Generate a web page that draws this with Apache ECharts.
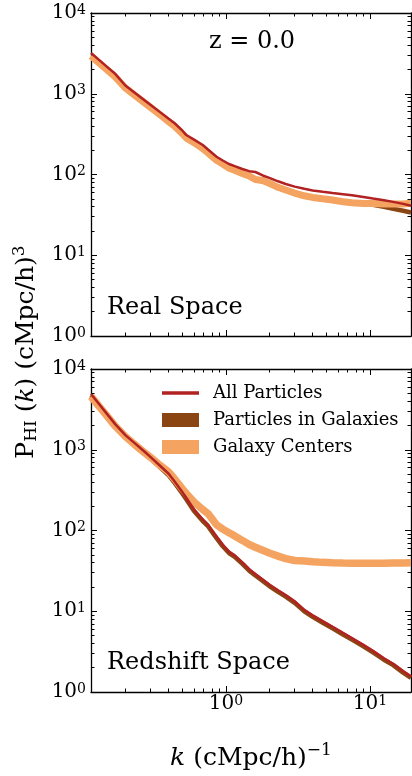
<!DOCTYPE html>
<html><head><meta charset="utf-8">
<script src="https://cdn.jsdelivr.net/npm/echarts@6/dist/echarts.min.js"></script>
<style>html,body{margin:0;padding:0;background:#fff}#c{width:412px;height:776px}</style>
</head><body><div id="c"></div>
<script>
// ---------- data ----------
const kValues = [0.1155, 0.13, 0.15, 0.17, 0.2, 0.23, 0.27, 0.3, 0.35, 0.4, 0.44, 0.5, 0.53, 0.6, 0.69, 0.75, 0.86, 0.95, 1.05, 1.15, 1.3, 1.45, 1.6, 1.8, 2.0, 2.3, 2.6, 3.0, 3.5, 4.0, 4.7, 5.5, 6.5, 7.5, 9, 10.5, 12.5, 14.5, 17, 19.28];
// Real space
const realAll = [3197, 2663, 2138, 1766, 1265, 1045, 839, 726, 588, 490, 431, 346, 308, 270, 232, 204, 166, 149, 135, 127, 117, 110, 107.4, 97.2, 91, 82.4, 76.3, 70.8, 66.5, 63.5, 61.1, 59, 57, 55.3, 52.6, 50.4, 48.1, 45.8, 43.3, 41];
const realGal = [2875, 2396, 1924, 1590, 1154, 954, 766, 662, 536, 441, 387, 312, 277, 243, 206, 181, 147, 132, 118, 111, 101, 93.9, 85, 82.6, 76.2, 68, 63, 57.7, 53.4, 51, 49, 47.3, 45.6, 44.5, 43.4, 42.2, 39.8, 37.6, 35.6, 33.8];
const realCen = [2934, 2445, 1963, 1622, 1178, 973, 782, 676, 547, 450, 395, 318, 283, 248, 210, 185, 150, 135, 120, 113, 103, 95.8, 86.7, 84.3, 77.8, 69.4, 64.3, 58.9, 54.5, 52, 50, 48.3, 46, 44.6, 43.7, 43.7, 43.1, 43.2, 43.2, 44];
// Redshift space
const zAll = [4898, 3770, 2740, 2078, 1518, 1227, 959, 809, 629, 504, 405, 296, 254, 182, 137, 118, 84, 66.5, 54.8, 49.2, 40.3, 33.2, 28.9, 24.7, 21.4, 18.2, 15.9, 13.3, 10.4, 8.91, 7.53, 6.42, 5.39, 4.65, 3.84, 3.23, 2.62, 2.24, 1.82, 1.57];
const zGal = [4692, 3612, 2625, 1991, 1454, 1175, 919, 775, 603, 483, 388, 284, 243, 174, 131, 113, 80.5, 63.7, 52.5, 47.1, 38.6, 31.8, 27.7, 23.7, 20.5, 17.4, 15.2, 12.7, 9.96, 8.54, 7.21, 6.15, 5.16, 4.45, 3.68, 3.09, 2.51, 2.15, 1.74, 1.5];
const zCen = [4565, 3532, 2582, 1968, 1459, 1178, 930, 802, 638, 530, 434, 325, 288, 225, 182, 162, 118, 104, 93.6, 85.7, 75.4, 67.1, 62.1, 56.9, 52.6, 48.2, 44.9, 42.5, 41.8, 41.1, 40.3, 39.9, 39.5, 39.2, 39.2, 39.2, 39.2, 39.5, 39.7, 39.9];

const seriesNames = ['All Particles', 'Particles in Galaxies', 'Galaxy Centers'];
const panelTitles = ['Real Space', 'Redshift Space'];
const redshiftText = 'z = 0.0';
const xMajorTicks = [1, 10];
const yMajorTicks = [1, 10, 100, 1000, 10000];
const xRange = [0.1155, 19.28];
const yRange = [1, 10000];

// ---------- styling ----------
const FONT = 'DejaVu Serif';
const colors = {all: '#B22222', gal: '#8B4513', cen: '#F4A460'};

function minorTicks(range) {
  const out = [];
  for (let d = -2; d <= 4; d++) for (let m = 2; m <= 9; m++) {
    const v = m * Math.pow(10, d);
    if (v > range[0] && v < range[1]) out.push(+v.toPrecision(6));
  }
  return out;
}
const xMinorTicks = minorTicks(xRange);
const yMinorTicks = minorTicks(yRange);

const rich = {
  b: {fontFamily: FONT, fontSize: 20, lineHeight: 20, color: '#000', verticalAlign: 'bottom'},
  s: {fontFamily: FONT, fontSize: 14, lineHeight: 14, color: '#000', verticalAlign: 'top', padding: [0, 0, 9, 0]}
};
function powLabel(v) { return '{b|10}{s|' + Math.round(Math.log10(v)) + '}'; }

function axis(kind, grid, pos, ticks, len, showLine, showLabels) {
  const range = kind === 'x' ? xRange : yRange;
  return {
    type: 'log', logBase: 10, gridIndex: grid, position: pos,
    min: range[0], max: range[1],
    axisLine: {show: showLine, onZero: false, lineStyle: {color: '#000', width: 1.3}},
    axisTick: {show: true, inside: true, length: len, customValues: ticks, lineStyle: {color: '#000', width: 1}},
    axisLabel: showLabels ? {show: true, customValues: ticks, formatter: powLabel, rich: rich,
      margin: kind === 'x' ? 2 : 5} : {show: false},
    splitLine: {show: false}, minorTick: {show: false}, minorSplitLine: {show: false}
  };
}

const xAxes = [], yAxes = [];
[0, 1].forEach(g => {
  xAxes.push(axis('x', g, 'bottom', xMajorTicks, 6, true, g === 1));
  xAxes.push(axis('x', g, 'bottom', xMinorTicks, 3.5, false, false));
  xAxes.push(axis('x', g, 'top', xMajorTicks, 6, true, false));
  xAxes.push(axis('x', g, 'top', xMinorTicks, 3.5, false, false));
  yAxes.push(axis('y', g, 'left', yMajorTicks, 6, true, true));
  yAxes.push(axis('y', g, 'left', yMinorTicks, 3.5, false, false));
  yAxes.push(axis('y', g, 'right', yMajorTicks, 6, true, false));
  yAxes.push(axis('y', g, 'right', yMinorTicks, 3.5, false, false));
});
// x-axis title on bottom panel
Object.assign(xAxes[4], {
  name: '{i|k}{n| (cMpc/h)}{s|\u22121}', nameLocation: 'middle', nameGap: 50,
  nameTextStyle: {rich: {
    i: {fontFamily: FONT, fontSize: 25, fontStyle: 'italic', lineHeight: 29, verticalAlign: 'bottom', color: '#000'},
    n: {fontFamily: FONT, fontSize: 25, lineHeight: 29, verticalAlign: 'bottom', color: '#000'},
    s: {fontFamily: FONT, fontSize: 17, lineHeight: 17, verticalAlign: 'top', color: '#000'}
  }}
});

function pairs(vals) { return kValues.map((k, i) => [k, vals[i]]); }
function line(name, vals, grid, color, width) {
  return {
    type: 'line', name: name, xAxisIndex: grid * 4, yAxisIndex: grid * 4,
    data: pairs(vals), symbol: 'none', showSymbol: false, silent: true,
    lineStyle: {color: color, width: width}, itemStyle: {color: color},
    clip: true, animation: false
  };
}

const series = [
  line(seriesNames[1], realGal, 0, colors.gal, 4.5),
  line(seriesNames[2], realCen, 0, colors.cen, 7),
  line(seriesNames[0], realAll, 0, colors.all, 2.5),
  line(seriesNames[1], zGal, 1, colors.gal, 4.5),
  line(seriesNames[2], zCen, 1, colors.cen, 7.5),
  line(seriesNames[0], zAll, 1, colors.all, 2.5)
];

const yTitleRich = {
  n: {fontFamily: FONT, fontSize: 25, lineHeight: 29, color: '#000'},
  i: {fontFamily: FONT, fontSize: 25, lineHeight: 29, fontStyle: 'italic', color: '#000'},
  sub: {fontFamily: FONT, fontSize: 17, lineHeight: 17, verticalAlign: 'bottom', color: '#000'},
  sup: {fontFamily: FONT, fontSize: 17, lineHeight: 17, verticalAlign: 'top', color: '#000'}
};

const option = {
  animation: false,
  backgroundColor: '#fff',
  grid: [
    {left: 91, top: 13, width: 320, height: 323},
    {left: 91, top: 369, width: 320, height: 323}
  ],
  xAxis: xAxes,
  yAxis: yAxes,
  legend: {
    orient: 'vertical', left: 162, top: 384, itemWidth: 37, itemHeight: 14, itemGap: 9, padding: 0,
    selectedMode: false,
    itemStyle: {borderWidth: 0},
    textStyle: {fontFamily: FONT, fontSize: 18, color: '#000', padding: [0, 0, 0, 9]},
    data: [
      {name: seriesNames[0], icon: 'path://M0,0L37,0L37,3.5L0,3.5Z'},
      {name: seriesNames[1], icon: 'rect'},
      {name: seriesNames[2], icon: 'rect'}
    ]
  },
  graphic: [
    {type: 'text', x: 252, y: 42, silent: true,
      style: {text: redshiftText, font: '24px "DejaVu Serif"', fill: '#000', align: 'center', verticalAlign: 'middle', textAlign: 'center', textVerticalAlign: 'middle'}},
    {type: 'text', x: 107, y: 308, silent: true,
      style: {text: panelTitles[0], font: '24px "DejaVu Serif"', fill: '#000', align: 'left', verticalAlign: 'middle', textAlign: 'left', textVerticalAlign: 'middle'}},
    {type: 'text', x: 107, y: 663, silent: true,
      style: {text: panelTitles[1], font: '24px "DejaVu Serif"', fill: '#000', align: 'left', verticalAlign: 'middle', textAlign: 'left', textVerticalAlign: 'middle'}},
    {type: 'text', x: 26, y: 352, rotation: Math.PI / 2, silent: true,
      style: {text: '{n|P}{sub|HI}{n| (}{i|k}{n|) (cMpc/h)}{sup|3}', rich: yTitleRich,
        align: 'center', verticalAlign: 'middle', textAlign: 'center', textVerticalAlign: 'middle'}}
  ],
  series: series
};

const chart = echarts.init(document.getElementById('c'), null, {renderer: 'canvas'});
chart.setOption(option);
</script>
</body></html>
